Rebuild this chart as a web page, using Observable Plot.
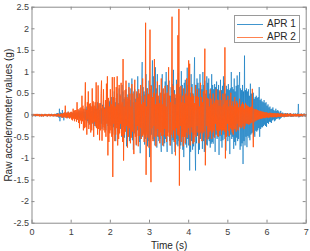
<!DOCTYPE html>
<html>
<head>
<meta charset="utf-8">
<script src="https://cdn.jsdelivr.net/npm/d3@7"></script>
<script src="https://cdn.jsdelivr.net/npm/@observablehq/plot@0.6"></script>
<style>
body{margin:0;background:#fff;font-family:"Liberation Sans",Arial,sans-serif;}
#wrap{position:relative;width:310px;height:251px;overflow:hidden;}
#legend{position:absolute;left:234px;top:15px;width:64px;height:26px;border:1px solid #9a9a9a;background:#fff;font-size:10px;color:#262626;}
#legend .row{position:absolute;left:0;height:12px;width:64px;}
#legend .sw{position:absolute;left:2px;top:6px;width:26px;height:1px;opacity:0.75;}
#legend .lb{position:absolute;left:32px;top:0;line-height:12px;white-space:nowrap;}
</style>
</head>
<body>
<div id="wrap"></div>
<script>
const sampleInterval = 0.0125; // seconds between samples, starting at t = 0
const seriesNames = ["APR 1", "APR 2"];
const seriesColors = ["#0072BD", "#FF5A16"];
const xTicks = [0, 1, 2, 3, 4, 5, 6, 7];
const yTicks = [-2.5, -2, -1.5, -1, -0.5, 0, 0.5, 1, 1.5, 2, 2.5];

// one row = 10 samples = 0.125 s
const apr1 = [
 .02,-.01,.03,-.02,.01,-.02,.02,-.03,.01,-.02,
 .03,-.02,.01,-.02,.02,-.01,.03,-.02,.02,-.03,
 .01,-.02,.02,-.03,.02,-.01,.02,-.02,.03,-.01,
 .02,-.03,.01,-.02,.02,-.02,.03,-.01,.02,-.02,
 .03,-.02,.02,-.01,.02,-.03,.01,-.02,.03,-.02,
 .04,-.03,.05,-.04,.03,-.06,.15,-.14,.06,-.04,
 .05,-.06,.12,-.05,.04,-.12,.06,-.03,.05,-.04,
 .06,-.05,.04,-.07,.08,-.04,.05,-.06,.03,-.05,
 .07,-.04,.06,-.08,.05,-.06,.1,-.05,.04,-.07,
 .08,-.06,.05,-.1,.07,-.05,.12,-.08,.06,-.1,
 .1,-.08,.06,-.12,.09,-.07,.14,-.1,.08,-.12,
 .15,-.1,.2,-.14,.08,-.18,.12,-.22,.16,-.12,
 .22,-.15,.1,-.2,.25,-.12,.18,-.25,.14,-.2,
 .2,-.28,.15,-.18,.3,-.12,.22,-.26,.12,-.2,
 .28,-.2,.16,-.32,.24,-.14,.35,-.22,.18,-.3,
 .25,-.35,.3,-.18,.38,-.25,.2,-.4,.32,-.22,
 .35,-.25,.42,-.3,.2,-.45,.38,-.28,.55,-.35,
 .3,-.6,.4,-.22,.5,-.38,.28,-.45,.62,-.3,
 .48,-.32,.25,-.5,.7,-.35,.55,-.28,.38,-.52,
 .42,-.3,.6,-.72,.32,-.55,.48,-.38,.75,-.6,
 .35,-.5,.62,-.4,.85,-.58,.3,-.8,.55,-.42,
 .6,-.45,.38,-.7,.5,-.35,.9,-.48,.42,-.62,
 .5,-.88,.45,-.55,.72,1.23,-.5,.65,-.42,.55,
 -.68,.48,-.55,.95,-.4,.62,-.72,.5,-.6,.8,
 -.97,.6,-.5,.7,-.45,.65,1.27,-.55,.9,-.6,
 .5,-.7,1.11,-.38,.62,-.75,.95,-.5,.4,-.6,
 .7,-.55,.35,-.62,-.85,.58,.95,-.5,.6,-.72,
 .4,-.65,.78,-.55,1.0,-.48,-.85,.7,-.4,.55,
 .8,-.6,.45,-.7,.65,-.5,-.9,.72,-.58,1.05,
 -.62,.58,-.85,.4,-.55,.82,-.68,.5,-.72,.98,
 -.6,.65,-.78,.45,-.7,1.02,-.42,.7,-.8,.6,
 -.97,.75,-.5,.82,-.68,.48,-.75,1.1,-.55,.7,
 -.7,.8,-1.28,.52,-.85,.95,-.6,.72,-.8,.5,
 -.72,.78,1.34,-.6,-1.28,.7,-.65,.85,-.48,.75,
 -.9,.62,-.8,.95,-.55,.7,-.42,.6,-.78,1.0,
 -.6,.7,-.85,.8,-.52,.5,-.68,.9,-.7,.75,
 -.55,.85,-.6,.5,-.75,.62,-.66,.95,-.62,.7,
 -.66,.6,-.5,.72,-.85,.65,-.45,.78,-.55,.6,
 -.5,.7,-.92,.55,-.48,.82,-.6,.58,-.75,.68,
 -.58,.9,-.45,.75,-.55,.5,-.82,.68,-.48,.6,
 -.6,.72,-.5,.58,-.9,.62,-.45,1.0,-.55,.65,
 -.5,.6,-.78,.85,-.62,.55,-.7,.68,-.52,.92,
 -.6,.7,-.55,.65,1.0,-.8,.62,-.72,.58,-.65,
 .7,-1.13,.55,-.6,1.38,-.7,.58,-.5,.62,-.74,
 .55,-.48,.6,-.52,.45,-.58,.73,-.45,.5,-.42,
 .48,-.4,.52,-.45,.38,-.5,.42,-.36,.45,-.38,
 .4,-.35,.42,-.3,.65,-.5,.35,-.32,.38,-.28,
 .32,-.28,.3,-.25,.35,-.22,.28,-.25,.3,-.27,
 .22,-.18,.25,-.2,.18,-.15,.2,-.16,.14,-.18,
 .15,-.12,.18,-.1,.12,-.14,.1,-.12,.15,-.09,
 .1,-.08,.12,-.07,.09,-.1,.06,-.08,.1,-.06,
 .05,-.04,.06,-.03,.04,-.05,.03,-.04,.05,-.03,
 .04,-.03,.05,-.04,.03,-.02,.04,-.03,.05,-.04,
 .03,-.04,.02,-.03,.04,-.03,.03,-.02,.04,-.03,
 .03,-.02,.04,-.03,.26,-.05,.03,-.04,.02,-.03,
 .04,-.03,.02,-.03,.03,-.02,.04,-.03,.02,-.03,
 .02
];

const apr2 = [
 .02,-.03,.01,-.02,.03,-.02,.02,-.01,.03,-.02,
 .02,-.02,.03,-.01,.02,-.03,.02,-.02,.01,-.03,
 .03,-.02,.02,-.03,.01,-.02,.03,-.02,.02,-.01,
 .02,-.03,.02,-.02,.03,-.01,.02,-.03,.02,-.02,
 .03,-.02,.01,-.03,.02,-.02,.03,-.02,.02,-.03,
 .02,-.03,.03,-.02,.04,-.03,.02,-.04,.03,-.02,
 .04,-.05,.03,-.06,.05,-.04,.06,-.05,.22,-.06,
 .05,-.07,.06,-.04,.08,-.06,.05,-.08,.07,-.05,
 .08,-.1,.06,-.12,.15,-.08,.1,-.14,.12,-.09,
 .12,-.15,.3,-.1,.14,-.18,.1,-.3,.16,-.12,
 .18,-.2,.45,-.14,.22,-.35,.15,-.3,.2,.76,
 -.28,.12,-.45,.3,-.1,.55,-.32,.26,-.2,.28,
 -.4,.2,-.35,.62,-.18,.32,-.5,.22,-.15,.3,
 -.25,.76,-.3,.15,-.45,.69,-.32,.28,-.58,.25,
 -.35,.5,.8,-.59,.2,-.28,.6,-.35,.15,-.4,
 .35,-.5,.73,-.2,.9,-.93,.4,-.62,.2,-.42,
 .6,-.35,.25,-.5,.88,-1.43,.42,-.2,.88,-.6,
 .2,-.45,.65,-.3,.9,-.7,.25,-.55,.7,-.42,
 .45,-.2,.75,-.48,.3,-.62,1.3,-1.05,.2,-.45,
 .58,-.38,.8,-.25,.42,-.75,.38,-.5,.65,-.3,
 .5,-.65,.2,-.52,.72,-.38,.5,-.22,-.9,.48,
 .82,-.5,.3,-.68,.55,-.25,.4,-.72,.6,-.48,
 .5,-.3,.7,-.55,.25,-.48,.85,-.45,.3,-.62,
 .45,-.5,2.14,-1.38,.2,-.45,.62,-.52,.48,-.75,
 .5,1.98,-.45,-1.55,.68,-.3,.42,-.6,.52,-.25,
 1.3,-.5,.25,-.72,.5,-.48,.78,-.32,.45,-.5,
 .28,-.65,.52,-.4,.85,-.48,.25,-.7,.62,-.46,
 .5,-.32,.68,-.5,.2,-.62,.52,-.48,.3,1.11,
 -.5,.45,-.7,.3,-.45,.5,2.28,-.52,.68,-.35,
 .5,-.62,.25,-.93,.48,-.3,.72,-.45,1.85,-.48,
 2.46,-1.63,.5,-.25,.68,-.62,.3,-.5,.45,-.72,
 .62,-.5,.28,-.65,.5,-.4,.85,-.52,.45,-.3,
 1.27,-.45,1.19,-.7,.42,-.28,.65,-.4,.5,-.66,
 .45,-.62,.28,-.45,.7,-.5,.44,-.25,.6,-.4,
 .42,-.65,.2,-.42,.75,-.38,.42,-.6,.3,-.42,
 .55,-.38,.42,1.54,-1.16,-.4,.58,-.25,.4,-.56,
 .38,-.5,.2,-.38,.6,-.35,.38,-.55,.25,-.4,
 .5,-.35,.28,-.52,.34,-.2,.6,-.35,.36,-.48,
 .35,-.5,.22,-.36,.58,-.33,.35,-.45,.2,-.36,
 .5,-.34,.25,-.38,1.57,-1.0,.34,-.5,.35,-.2,
 .45,-.36,.2,-.48,.36,-.3,.52,-.33,.22,-.4,
 .32,-.45,.2,-.32,.42,-.33,.25,-.38,.32,-.2,
 .28,-.35,.18,-.28,.38,-.25,.2,-.3,.25,-.27,
 .3,-.2,.26,-.32,.15,-.25,.28,-.18,.24,-.2,
 .22,-.2,.2,-.22,.18,-.2,.19,-.18,.2,-.17,
 .61,-.16,-.74,.15,.14,-.15,.13,-.12,.14,-.12,
 .12,-.1,.11,-.1,.1,-.09,.1,-.08,.09,-.08,
 .08,-.07,.08,-.06,.07,-.07,.06,-.06,.07,-.05,
 .06,-.05,.05,-.06,.05,-.05,.06,-.04,.05,-.05,
 .05,-.04,.05,-.05,.04,-.04,.05,-.04,.04,-.05,
 .04,-.04,.05,-.03,.04,-.04,.03,-.04,.04,-.03,
 .04,-.03,.03,-.04,.03,-.03,.04,-.03,.03,-.04,
 .03,-.03,.04,-.03,.03,-.02,.03,-.03,.04,-.03,
 .03,-.02,.03,-.03,.02,-.03,.03,-.02,.03,-.03,
 .02,-.03,.03,-.02,.03,-.03,.02,-.03,.03,-.02,
 .03,-.02,.02,-.03,.03,-.02,.03,-.02,.02,-.03,
 .02
];

const toRows = vals => vals.map((v, i) => ({t: i * sampleInterval, v}));
const rows1 = toRows(apr1), rows2 = toRows(apr2);

const W = 310, H = 251, mL = 31.5, mR = 4.3, mT = 6.7, mB = 28.3;
const innerH = H - mT - mB, innerW = W - mL - mR;
const axisColor = "#8c8c8c";
const font = "'Liberation Sans', Arial, sans-serif";

const chart = Plot.plot({
  width: W, height: H,
  marginLeft: mL, marginRight: mR, marginTop: mT, marginBottom: mB,
  x: {domain: [0, 7]},
  y: {domain: [-2.5, 2.5]},
  style: {fontFamily: font, fontSize: "9px", color: "#404040", background: "white", overflow: "visible"},
  marks: [
    Plot.line(rows1, {x: "t", y: "v", stroke: seriesColors[0], strokeWidth: 0.6}),
    Plot.line(rows2, {x: "t", y: "v", stroke: seriesColors[1], strokeWidth: 0.95}),
    Plot.frame({stroke: axisColor}),
    Plot.tickX(xTicks, {x: d => d, insetTop: innerH - 3, stroke: axisColor}),
    Plot.tickX(xTicks, {x: d => d, insetBottom: innerH - 3, stroke: axisColor}),
    Plot.tickY(yTicks, {y: d => d, insetRight: innerW - 3, stroke: axisColor}),
    Plot.tickY(yTicks, {y: d => d, insetLeft: innerW - 3, stroke: axisColor}),
    Plot.axisX({ticks: xTicks, tickSize: 0, tickPadding: 5, tickFormat: d => String(d),
      label: "Time (s)", labelAnchor: "center", labelArrow: "none", labelOffset: 26}),
    Plot.axisY({ticks: yTicks, tickSize: 0, tickPadding: 3, tickFormat: d => String(d),
      label: "Raw accelerometer values (g)", labelAnchor: "center", labelArrow: "none", labelOffset: 27})
  ]
});

d3.select(chart).selectAll('[aria-label="x-axis label"] text, [aria-label="y-axis label"] text')
  .attr("font-size", "10px").attr("fill", "#262626");

const wrap = document.getElementById("wrap");
wrap.appendChild(chart);

const legend = document.createElement("div");
legend.id = "legend";
seriesNames.forEach((n, i) => {
  const row = document.createElement("div");
  row.className = "row";
  row.style.top = (1.7 + i * 13) + "px";
  const sw = document.createElement("div");
  sw.className = "sw";
  sw.style.background = seriesColors[i];
  const lb = document.createElement("div");
  lb.className = "lb";
  lb.textContent = n;
  row.appendChild(sw); row.appendChild(lb);
  legend.appendChild(row);
});
wrap.appendChild(legend);
</script>
</body>
</html>
